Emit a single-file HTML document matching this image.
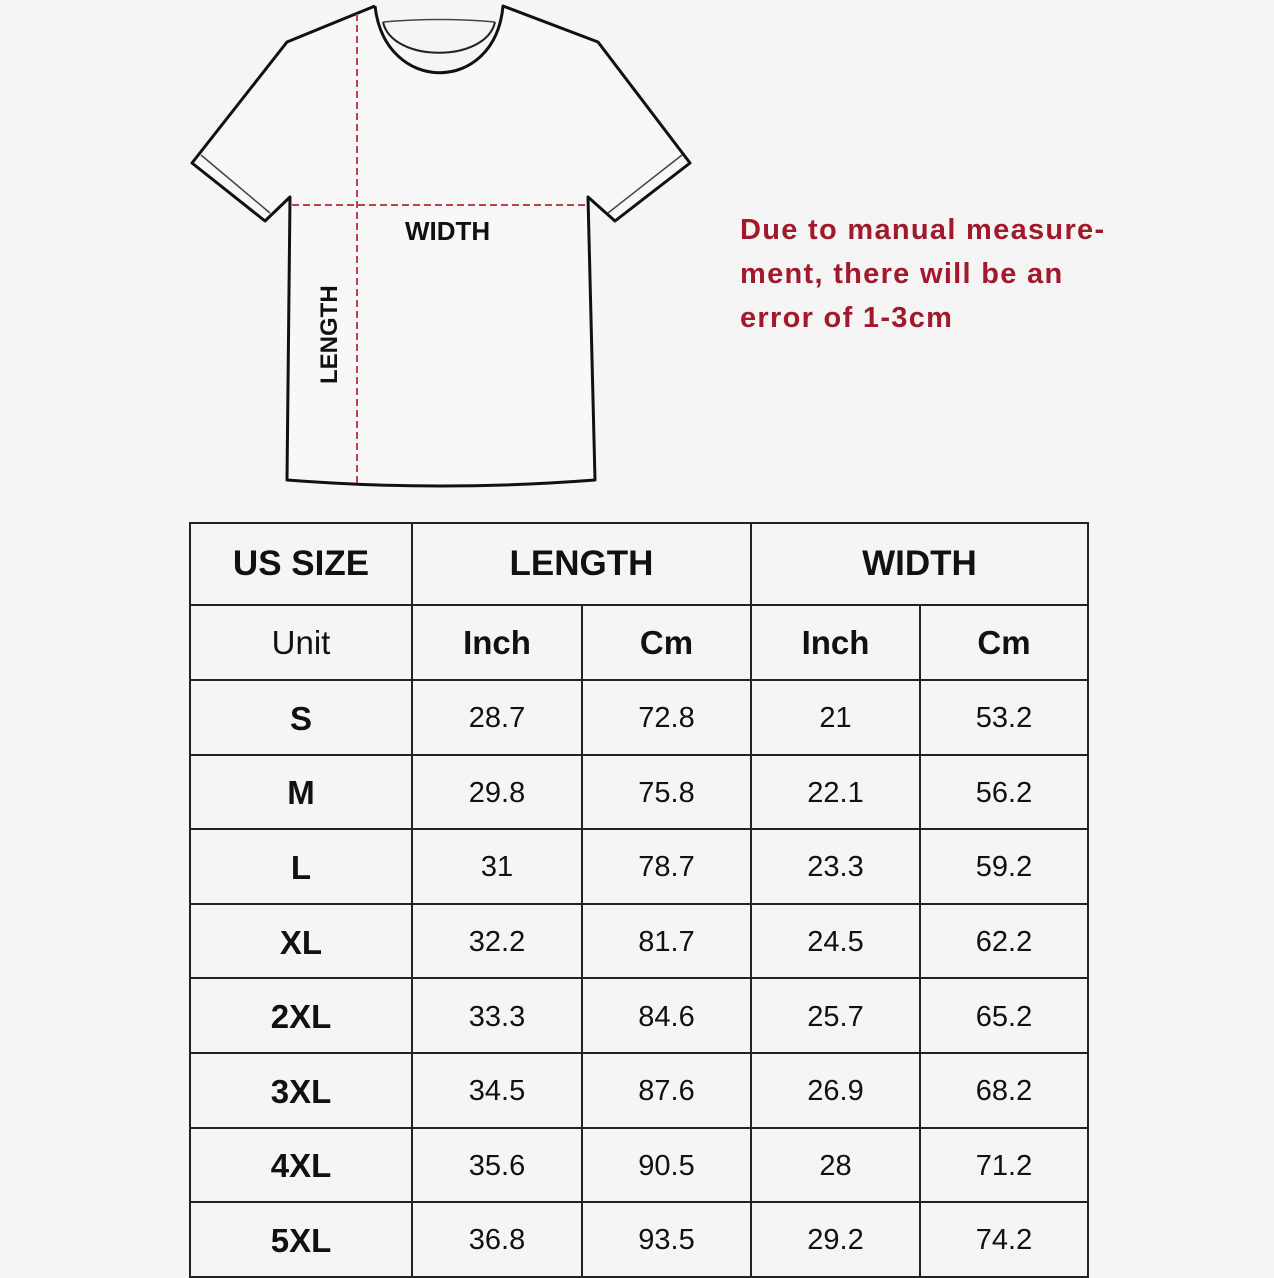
<!DOCTYPE html>
<html><head><meta charset="utf-8"><style>
html,body{margin:0;padding:0;background:#f5f5f5;}
body{width:1274px;height:1274px;position:relative;overflow:hidden;font-family:"Liberation Sans","DejaVu Sans",sans-serif;color:#111;}
.note{position:absolute;left:740px;top:208px;color:#a1192a;font-weight:bold;font-size:29px;line-height:44px;letter-spacing:1.3px;}
table{position:absolute;left:189px;top:522px;border-collapse:collapse;}
td{border:2px solid #222;text-align:center;padding:0;}
.h td{font-weight:bold;font-size:35px;height:80px;}
.u td{font-size:33px;height:73px;font-weight:bold;}
.u td.n{font-weight:normal;}
.d td{font-size:29px;height:69.6px;padding-top:3px;}
.d td:first-child{font-weight:bold;font-size:33px;}
</style></head><body>
<svg width="1274" height="500" style="position:absolute;left:0;top:0">
<path d="M375,6 L287,42 L192,163 L265,221 L290,197 L287,480 Q440,492 595,480 L588,197 L615,221 L690,163 L598,42 L503,6 C495,95 385,95 375,6" fill="#f8f8f8" stroke="#111" stroke-width="3" stroke-linejoin="round"/>
<path d="M383,22 C392,63 486,63 495,22" fill="none" stroke="#222" stroke-width="2"/>
<path d="M383,22 Q440,17 495,22" fill="none" stroke="#444" stroke-width="1.5"/>
<line x1="201" y1="155" x2="270" y2="213" stroke="#444" stroke-width="1.5"/>
<line x1="608" y1="213" x2="682" y2="155" stroke="#444" stroke-width="1.5"/>
<line x1="357" y1="14" x2="357" y2="483" stroke="#c0404f" stroke-width="2" stroke-dasharray="7,4"/>
<line x1="292" y1="205" x2="588" y2="205" stroke="#c0404f" stroke-width="2" stroke-dasharray="7,4"/>
<text x="405" y="240" font-family="Liberation Sans, sans-serif" font-weight="bold" font-size="26" fill="#111">WIDTH</text>
<text transform="translate(337,384) rotate(-90)" font-family="Liberation Sans, sans-serif" font-weight="bold" font-size="24" fill="#111">LENGTH</text>
</svg>
<div class="note">Due to manual measure-<br>ment, there will be an<br>error of 1-3cm</div>
<table>
<colgroup><col style="width:222px"><col style="width:170px"><col style="width:169px"><col style="width:169px"><col style="width:168px"></colgroup>
<tr class="h"><td>US SIZE</td><td colspan="2">LENGTH</td><td colspan="2">WIDTH</td></tr>
<tr class="u"><td class="n">Unit</td><td>Inch</td><td>Cm</td><td>Inch</td><td>Cm</td></tr>
<tr class="d"><td>S</td><td>28.7</td><td>72.8</td><td>21</td><td>53.2</td></tr>
<tr class="d"><td>M</td><td>29.8</td><td>75.8</td><td>22.1</td><td>56.2</td></tr>
<tr class="d"><td>L</td><td>31</td><td>78.7</td><td>23.3</td><td>59.2</td></tr>
<tr class="d"><td>XL</td><td>32.2</td><td>81.7</td><td>24.5</td><td>62.2</td></tr>
<tr class="d"><td>2XL</td><td>33.3</td><td>84.6</td><td>25.7</td><td>65.2</td></tr>
<tr class="d"><td>3XL</td><td>34.5</td><td>87.6</td><td>26.9</td><td>68.2</td></tr>
<tr class="d"><td>4XL</td><td>35.6</td><td>90.5</td><td>28</td><td>71.2</td></tr>
<tr class="d"><td>5XL</td><td>36.8</td><td>93.5</td><td>29.2</td><td>74.2</td></tr>
</table>
</body></html>
